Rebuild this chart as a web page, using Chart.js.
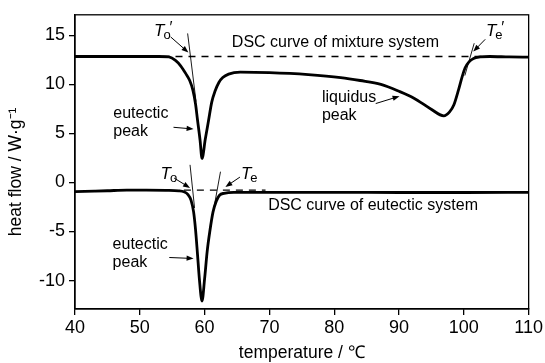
<!DOCTYPE html>
<html><head><meta charset="utf-8">
<script src="https://cdn.jsdelivr.net/npm/chart.js@4.4.1/dist/chart.umd.min.js"></script>
<style>html,body{margin:0;padding:0;background:#fff;}#wrap{width:545px;height:363px;}</style>
</head><body><div id="wrap"><canvas id="c" width="545" height="363"></canvas></div>
<script>
// ---- data (temperature / °C, heat flow / W·g-1) ----
const mixT  = [40,45,50,53,54.5,55.5,56.3,57.1,57.7,58.2,58.6,58.9,59.3,59.6,60.1,60.6,61.1,61.6,62.2,62.8,63.7,65.5,70,76,81,84,87.2,90,92.3,94.9,96.9,97.8,98.45,99.2,99.7,100.2,100.8,101.5,102.5,104,107,110];
const mixHF = [12.85,12.85,12.85,12.85,12.8,12.45,11.9,11.1,10.4,9.4,8.0,6.4,4.3,2.45,4.4,6.3,8.2,9.3,10.2,10.7,11.05,11.25,11.2,11.0,10.7,10.4,10.0,9.3,8.6,7.5,6.8,7.2,7.9,9.5,10.7,11.7,12.3,12.65,12.8,12.85,12.8,12.78];
const eutT  = [40,43,45,48,51,54,56,56.8,57.4,57.9,58.3,58.6,58.9,59.2,59.6,60.0,60.4,60.8,61.3,61.8,62.3,63.0,64.5,70,80,90,100,110];
const eutHF = [-0.94,-0.88,-0.84,-0.78,-0.78,-0.8,-0.85,-0.95,-1.2,-1.8,-3.0,-4.8,-7.3,-9.9,-12.1,-9.8,-7.0,-5.0,-3.0,-1.9,-1.3,-1.1,-1.0,-1.0,-1.0,-1.02,-1.02,-1.0];
// construction lines (baselines and tangents)
const mixBaseT = [53.5,103.5], mixBaseHF = [12.85,12.85];
const eutBaseT = [56.8,69.4],  eutBaseHF = [-0.78,-0.78];
const tanOnMixT = [57.38,58.68], tanOnMixHF = [15.2,8.25];
const tanEnMixT = [101.6,100.15], tanEnMixHF = [14.2,10.9];
const tanOnEutT = [57.75,58.45], tanOnEutHF = [1.8,-2.6];
const tanEnEutT = [62.45,61.35], tanEnEutHF = [1.1,-2.9];
const xTicks = [40,50,60,70,80,90,100,110];
const yTicks = [-10,-5,0,5,10,15];

const pts = (xs, ys) => xs.map((x,i)=>({x:x, y:ys[i]}));
const FONT = '"Liberation Sans", Arial, sans-serif';

// annotation layout (data coordinates)
const texts = [
  {t:'DSC curve of mixture system', x:64.2, y:14.29},
  {t:'DSC curve of eutectic system', x:69.8, y:-2.31},
  {t:'eutectic', x:45.9, y:7.04}, {t:'peak', x:45.9, y:5.23},
  {t:'liquidus', x:78.1, y:8.65}, {t:'peak', x:78.1, y:6.84},
  {t:'eutectic', x:45.8, y:-6.34}, {t:'peak', x:45.8, y:-8.15}
];
const syms = [
  {sub:'o', prime:true, x:52.2, y:15.4},
  {sub:'e', prime:true, x:103.4, y:15.4},
  {sub:'o', prime:false, x:53.2, y:0.8},
  {sub:'e', prime:false, x:65.6, y:0.8}
];
const arrows = [
  [54.75,14.85,57.5,13.25],
  [103.3,14.6,101.45,13.35],
  [55.2,5.63,58.3,5.45],
  [86.4,8.05,90.08,8.8],
  [55.3,0.45,57.75,-0.55],
  [65.45,0.55,63.2,-0.45],
  [54.55,-7.65,58.3,-7.75]
];

const annot = {
  id:'annot',
  afterDatasetsDraw(chart){
    const {ctx, chartArea:a, scales:{x, y}} = chart;
    ctx.save();
    ctx.strokeStyle = '#000'; ctx.lineWidth = 1.3;
    ctx.strokeRect(a.left, a.top, a.right - a.left, a.bottom - a.top);
    ctx.fillStyle = '#000';
    ctx.font = '16px ' + FONT; ctx.textBaseline = 'middle'; ctx.textAlign = 'left';
    texts.forEach(o => ctx.fillText(o.t, x.getPixelForValue(o.x), y.getPixelForValue(o.y)));
    syms.forEach(o => {
      let px = x.getPixelForValue(o.x), py = y.getPixelForValue(o.y);
      ctx.font = 'italic 17px ' + FONT;
      ctx.fillText('T', px, py);
      px += ctx.measureText('T').width - 1;
      ctx.font = '13px ' + FONT;
      ctx.fillText(o.sub, px, py + 4);
      if (o.prime) { ctx.font = '16px ' + FONT; ctx.fillText('\u2032', px + 6, py - 3); }
    });
    ctx.lineWidth = 1;
    arrows.forEach(ar => {
      const x1 = x.getPixelForValue(ar[0]), y1 = y.getPixelForValue(ar[1]);
      const x2 = x.getPixelForValue(ar[2]), y2 = y.getPixelForValue(ar[3]);
      const ang = Math.atan2(y2 - y1, x2 - x1), L = 7, W = 2.6;
      ctx.beginPath(); ctx.moveTo(x1, y1);
      ctx.lineTo(x2 - Math.cos(ang)*L*0.8, y2 - Math.sin(ang)*L*0.8); ctx.stroke();
      ctx.beginPath(); ctx.moveTo(x2, y2);
      ctx.lineTo(x2 - L*Math.cos(ang) + W*Math.sin(ang), y2 - L*Math.sin(ang) - W*Math.cos(ang));
      ctx.lineTo(x2 - L*Math.cos(ang) - W*Math.sin(ang), y2 - L*Math.sin(ang) + W*Math.cos(ang));
      ctx.closePath(); ctx.fill();
    });
    // axis titles
    ctx.font = '17.5px ' + FONT; ctx.textAlign = 'center'; ctx.textBaseline = 'middle';
    ctx.fillText('temperature / \u2103', (a.left + a.right)/2, 353);
    ctx.save(); ctx.translate(16, (a.top + a.bottom)/2 + 10); ctx.rotate(-Math.PI/2);
    ctx.fillText('heat flow / W\u00B7g\u207B\u00B9', 0, 0); ctx.restore();
    ctx.restore();
  }
};

const thick = {borderColor:'#000', borderWidth:2.8, pointRadius:0, cubicInterpolationMode:'monotone', fill:false};
const dash = {borderColor:'#000', borderWidth:1.3, pointRadius:0, borderDash:[7,6], fill:false};
const thin = {borderColor:'#000', borderWidth:0.9, pointRadius:0, fill:false};

new Chart(document.getElementById('c'), {
  type:'line',
  data:{datasets:[
    Object.assign({label:'mixture', data:pts(mixT, mixHF)}, thick),
    Object.assign({label:'eutectic', data:pts(eutT, eutHF)}, thick),
    Object.assign({label:'mixBase', data:pts(mixBaseT, mixBaseHF)}, dash),
    Object.assign({label:'eutBase', data:pts(eutBaseT, eutBaseHF)}, dash),
    Object.assign({label:'t1', data:pts(tanOnMixT, tanOnMixHF)}, thin),
    Object.assign({label:'t2', data:pts(tanEnMixT, tanEnMixHF)}, thin),
    Object.assign({label:'t3', data:pts(tanOnEutT, tanOnEutHF)}, thin),
    Object.assign({label:'t4', data:pts(tanEnEutT, tanEnEutHF)}, thin)
  ]},
  options:{
    responsive:false, animation:false, devicePixelRatio:1,
    layout:{padding:{left:0, right:13, top:10, bottom:0}},
    plugins:{legend:{display:false}, tooltip:{enabled:false}},
    scales:{
      x:{type:'linear', min:40, max:110,
        afterBuildTicks: s => { s.ticks = xTicks.map(v => ({value:v})); },
        afterFit: s => { s.height = 54; },
        grid:{drawOnChartArea:false, drawTicks:true, tickLength:6, color:'#000', lineWidth:1.3},
        border:{color:'#000', width:1.3},
        ticks:{color:'#000', font:{family:FONT, size:18}, padding:2, maxRotation:0, callback: v => String(v)}},
      y:{type:'linear', min:-12.9, max:17.1,
        afterBuildTicks: s => { s.ticks = yTicks.map(v => ({value:v})); },
        afterFit: s => { s.width = 75; },
        grid:{drawOnChartArea:false, drawTicks:true, tickLength:6, color:'#000', lineWidth:1.3},
        border:{color:'#000', width:1.3},
        ticks:{color:'#000', font:{family:FONT, size:18}, padding:4, callback: v => String(v)}}
    }
  },
  plugins:[annot]
});
</script></body></html>
